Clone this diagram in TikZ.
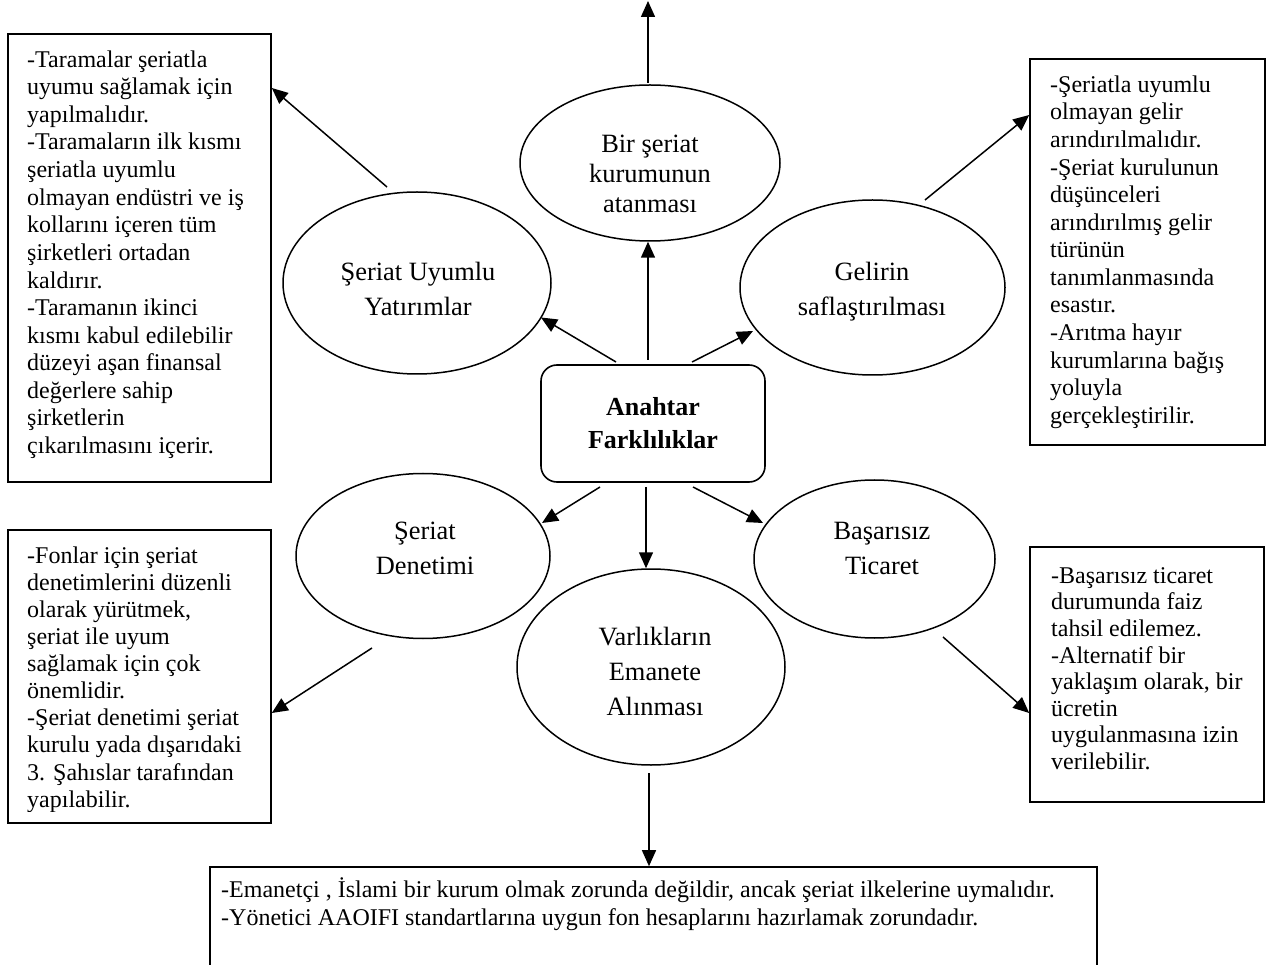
\documentclass[tikz,border=0pt]{standalone}
\usepackage{fontspec}
\setmainfont{Liberation Serif}
\usetikzlibrary{arrows.meta,shapes.geometric,calc}
\newcommand{\bst}{\rule{0pt}{21pt}}
\newcommand{\est}{\rule{0pt}{22pt}}
\begin{document}
\begin{tikzpicture}[x=1pt,y=-1pt,
  oval/.style={draw, ellipse, line width=1.5pt, inner sep=0pt},
  boxframe/.style={draw, rectangle, line width=1.6pt, inner sep=0pt},
  btext/.style={anchor=north west, inner sep=0pt, align=left},
  etext/.style={anchor=north, inner sep=0pt, align=center,
    font=\fontsize{26.4}{35}\selectfont},
  arr/.style={line width=1.5pt, -{Triangle[length=16pt,width=14pt]}}]
\useasboundingbox (0,0) rectangle (1267,965);
\clip (0,0) rectangle (1267,965);

% ellipses
\node[oval, minimum width=260pt, minimum height=156pt] (eTop) at (650,163) {};
\node[etext, font=\fontsize{26.4}{30}\selectfont] (tTop) at (650,130) {\est Bir şeriat\\kurumunun\\atanması};
\node[oval, minimum width=268pt, minimum height=182pt] (eSU) at (417,283) {};
\node[etext] (tSU) at (418,258) {\est Şeriat Uyumlu\\Yatırımlar};
\node[oval, minimum width=265pt, minimum height=175pt] (eGel) at (872.5,287.5) {};
\node[etext] (tGel) at (872,258) {\est Gelirin\\saflaştırılması};
\node[oval, minimum width=254pt, minimum height=165pt] (eSD) at (423,556) {};
\node[etext] (tSD) at (425,517) {\est Şeriat\\Denetimi};
\node[oval, minimum width=268pt, minimum height=196pt] (eVar) at (651,667) {};
\node[etext] (tVar) at (655,623) {\est Varlıkların\\Emanete\\Alınması};
\node[oval, minimum width=241pt, minimum height=158pt] (eBas) at (874.5,559) {};
\node[etext] (tBas) at (882,517) {\est Başarısız\\Ticaret};

% central box
\node[draw, rectangle, rounded corners=16pt, line width=1.6pt, minimum width=224pt,
  minimum height=117pt, align=center, inner sep=0pt,
  font=\fontsize{26}{33}\selectfont\bfseries] (key) at (653,423.5) {Anahtar\\Farklılıklar};

% text boxes
\node[boxframe, minimum width=263pt, minimum height=448pt] (bTL) at (139.5,258) {};
\node[btext, font=\fontsize{24}{27.6}\selectfont] (xTL) at (27,46) {\bst -Taramalar şeriatla\\
uyumu sağlamak için\\
yapılmalıdır.\\
-Taramaların ilk kısmı\\
şeriatla uyumlu\\
olmayan endüstri ve iş\\
kollarını içeren tüm\\
şirketleri ortadan\\
kaldırır.\\
-Taramanın ikinci\\
kısmı kabul edilebilir\\
düzeyi aşan finansal\\
değerlere sahip\\
şirketlerin\\
çıkarılmasını içerir.};

\node[boxframe, minimum width=235pt, minimum height=386pt] (bTR) at (1147.5,252) {};
\node[btext, font=\fontsize{24}{27.6}\selectfont] (xTR) at (1050,71) {\bst -Şeriatla uyumlu\\
olmayan gelir\\
arındırılmalıdır.\\
-Şeriat kurulunun\\
düşünceleri\\
arındırılmış gelir\\
türünün\\
tanımlanmasında\\
esastır.\\
-Arıtma hayır\\
kurumlarına bağış\\
yoluyla\\
gerçekleştirilir.};

\node[boxframe, minimum width=263pt, minimum height=293pt] (bBL) at (139.5,676.5) {};
\begin{scope}
\clip (8,530) rectangle (271,811);
\node[btext, font=\fontsize{24}{27.1}\selectfont] (xBL) at (27,542) {\bst -Fonlar için şeriat\\
denetimlerini düzenli\\
olarak yürütmek,\\
şeriat ile uyum\\
sağlamak için çok\\
önemlidir.\\
-Şeriat denetimi şeriat\\
kurulu yada dışarıdaki\\
3. Şahıslar tarafından\\
yapılabilir.};
\end{scope}

\node[boxframe, minimum width=234pt, minimum height=255pt] (bBR) at (1147,674.5) {};
\node[btext, font=\fontsize{24}{26.6}\selectfont] (xBR) at (1051,562) {\bst -Başarısız ticaret\\
durumunda faiz\\
tahsil edilemez.\\
-Alternatif bir\\
yaklaşım olarak, bir\\
ücretin\\
uygulanmasına izin\\
verilebilir.};

\node[boxframe, minimum width=887pt, minimum height=133pt] (bBot) at (653.5,933.5) {};
\node[btext, font=\fontsize{24}{28}\selectfont] (xBot) at (221,876) {\bst -Emanetçi , İslami bir kurum olmak zorunda değildir, ancak şeriat ilkelerine uymalıdır.\\
-Yönetici AAOIFI standartlarına uygun fon hesaplarını hazırlamak zorundadır.};

% connector end points
\coordinate (top) at (648,1);
\coordinate (sTop) at (648,83);
\coordinate (k1) at (648,360);
\coordinate (k2) at (616,362);
\coordinate (k3) at (692,362);
\coordinate (k4) at (600,487);
\coordinate (k5) at (646,487);
\coordinate (k6) at (693,487);
\coordinate (sSU) at (387,187);
\coordinate (sGel) at (925,200);
\coordinate (sSD) at (372,648);
\coordinate (sBas) at (943,637);
\coordinate (sVar) at (649,773);

\draw[arr] (sTop) -- (top);
\draw[arr] (k1) -- (eTop.south -| k1);
\draw[arr] (k2) -- ($(eSU.center)+(124,34.5)$);
\draw[arr] (k3) -- ($(eGel.center)+(-119.5,43.5)$);
\draw[arr] (k4) -- ($(eSD.center)+(119,-33)$);
\draw[arr] (k5) -- (eVar.north -| k5);
\draw[arr] (k6) -- ($(eBas.center)+(-111.5,-36)$);
\draw[arr] (sSU) -- (bTL.east |- 0,88);
\draw[arr] (sGel) -- (bTR.west |- 0,115);
\draw[arr] (sSD) -- (bBL.east |- 0,713);
\draw[arr] (sBas) -- (bBR.west |- 0,713);
\draw[arr] (sVar) -- (bBot.north -| sVar);
\end{tikzpicture}
\end{document}
